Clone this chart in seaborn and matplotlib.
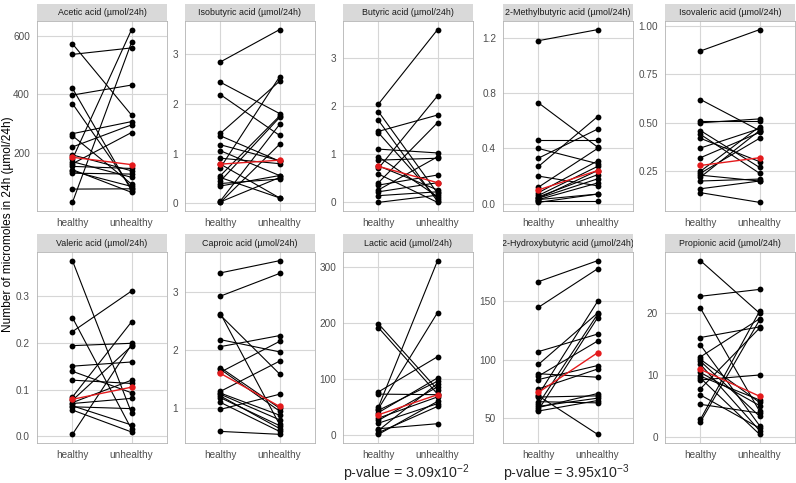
import numpy as np
import pandas as pd
import matplotlib
matplotlib.use("Agg")
import matplotlib.pyplot as plt
import seaborn as sns

groups = ["healthy", "unhealthy"]

# values, one entry per subject (healthy -> unhealthy)
acetic_healthy = [572, 536, 421, 398, 369, 267, 260, 222, 195, 181, 172, 165, 156, 145, 140, 133, 79, 34]
acetic_unhealthy = [330, 558, 74, 432, 82, 308, 96, 297, 141, 620, 119, 271, 149, 68, 88, 130, 80, 577]
acetic_median = [187, 162]
acetic_ticks = [200, 400, 600]
acetic_labels = ["200", "400", "600"]

isobutyric_healthy = [2.85, 2.44, 2.19, 1.41, 1.36, 1.18, 1.06, 0.91, 0.79, 0.72, 0.56, 0.52, 0.45, 0.40, 0.35, 0.05, 0.02, 0.03]
isobutyric_unhealthy = [3.50, 1.81, 1.37, 2.46, 0.85, 0.86, 0.56, 0.80, 0.11, 2.55, 1.76, 0.11, 1.73, 0.49, 0.56, 1.59, 1.19, 0.52]
isobutyric_median = [0.79, 0.87]
isobutyric_ticks = [0, 1, 2, 3]
isobutyric_labels = ["0", "1", "2", "3"]

butyric_healthy = [2.05, 1.89, 1.71, 1.48, 1.45, 1.11, 0.95, 0.88, 0.76, 0.71, 0.59, 0.41, 0.36, 0.26, 0.22, 0.14, 0.00]
butyric_unhealthy = [3.60, 0.19, 0.02, 1.82, 0.07, 1.03, 0.12, 0.92, 0.26, 2.22, 0.00, 1.66, 0.57, 0.95, 0.41, 0.22, 0.15]
butyric_median = [0.75, 0.41]
butyric_ticks = [0, 1, 2, 3]
butyric_labels = ["0", "1", "2", "3"]

methylbutyric_healthy = [1.18, 0.73, 0.46, 0.40, 0.33, 0.27, 0.20, 0.12, 0.08, 0.06, 0.05, 0.04, 0.03, 0.03, 0.02, 0.01, 0.04]
methylbutyric_unhealthy = [1.26, 0.41, 0.46, 0.29, 0.54, 0.63, 0.13, 0.40, 0.31, 0.27, 0.21, 0.18, 0.15, 0.07, 0.02, 0.07, 0.24]
methylbutyric_median = [0.10, 0.24]
methylbutyric_ticks = [0.0, 0.4, 0.8, 1.2]
methylbutyric_labels = ["0.0", "0.4", "0.8", "1.2"]

isovaleric_healthy = [0.87, 0.62, 0.51, 0.50, 0.46, 0.44, 0.42, 0.37, 0.32, 0.25, 0.24, 0.23, 0.22, 0.20, 0.16, 0.14]
isovaleric_unhealthy = [0.98, 0.46, 0.51, 0.52, 0.27, 0.24, 0.30, 0.47, 0.45, 0.48, 0.42, 0.20, 0.46, 0.21, 0.20, 0.09]
isovaleric_median = [0.28, 0.32]
isovaleric_ticks = [0.25, 0.50, 0.75, 1.00]
isovaleric_labels = ["0.25", "0.50", "0.75", "1.00"]

valeric_healthy = [0.376, 0.254, 0.224, 0.194, 0.150, 0.139, 0.120, 0.084, 0.077, 0.070, 0.063, 0.056, 0.065, 0.072, 0.004]
valeric_unhealthy = [0.050, 0.015, 0.311, 0.199, 0.159, 0.093, 0.113, 0.245, 0.193, 0.081, 0.059, 0.009, 0.024, 0.120, 0.196]
valeric_median = [0.079, 0.105]
valeric_ticks = [0.0, 0.1, 0.2, 0.3]
valeric_labels = ["0.0", "0.1", "0.2", "0.3"]

caproic_healthy = [3.33, 2.93, 2.63, 2.60, 2.18, 2.06, 1.70, 1.67, 1.62, 1.29, 1.24, 1.21, 1.18, 1.10, 0.98, 0.60, 1.26]
caproic_unhealthy = [3.54, 3.32, 0.72, 1.59, 1.97, 2.25, 1.00, 0.95, 2.15, 1.81, 0.80, 0.65, 0.70, 0.60, 1.24, 0.55, 0.88]
caproic_median = [1.60, 1.03]
caproic_ticks = [1, 2, 3]
caproic_labels = ["1", "2", "3"]

lactic_healthy = [199, 192, 77, 73, 50, 47, 44, 40, 30, 26, 21, 11, 8, 4, 1]
lactic_unhealthy = [81, 73, 140, 72, 312, 219, 96, 102, 68, 86, 56, 20, 92, 51, 60]
lactic_median = [36, 72]
lactic_ticks = [0, 100, 200, 300]
lactic_labels = ["0", "100", "200", "300"]

hydroxybutyric_healthy = [167, 145, 107, 96, 88, 86, 83, 75, 70, 69, 62, 59, 57, 56, 68, 64, 60]
hydroxybutyric_unhealthy = [185, 178, 122, 140, 85, 116, 95, 92, 150, 36, 139, 71, 136, 65, 69, 63, 67]
hydroxybutyric_median = [72, 106]
hydroxybutyric_ticks = [50, 100, 150]
hydroxybutyric_labels = ["50", "100", "150"]

propionic_healthy = [28.3, 22.6, 20.7, 16.0, 14.8, 12.9, 12.5, 12.2, 11.7, 9.8, 9.5, 9.2, 7.8, 6.8, 5.3, 2.9, 2.5, 10.4]
propionic_unhealthy = [19.9, 23.7, 4.2, 17.7, 1.9, 19.0, 5.6, 3.4, 1.1, 6.0, 0.5, 10.0, 17.5, 1.5, 3.9, 20.2, 18.8, 5.1]
propionic_median = [10.9, 6.6]
propionic_ticks = [0, 10, 20]
propionic_labels = ["0", "10", "20"]

titles = [
    "Acetic acid (µmol/24h)", "Isobutyric acid (µmol/24h)", "Butyric acid (µmol/24h)",
    "2-Methylbutyric acid (µmol/24h)", "Isovaleric acid (µmol/24h)",
    "Valeric acid (µmol/24h)", "Caproic acid (µmol/24h)", "Lactic acid (µmol/24h)",
    "2-Hydroxybutyric acid (µmol/24h)", "Propionic acid (µmol/24h)",
]

pvalue_texts = [r"p-value = 3.09x10$^{-2}$", r"p-value = 3.95x10$^{-3}$"]

panels = [
    (acetic_healthy, acetic_unhealthy, acetic_median, acetic_ticks, acetic_labels),
    (isobutyric_healthy, isobutyric_unhealthy, isobutyric_median, isobutyric_ticks, isobutyric_labels),
    (butyric_healthy, butyric_unhealthy, butyric_median, butyric_ticks, butyric_labels),
    (methylbutyric_healthy, methylbutyric_unhealthy, methylbutyric_median, methylbutyric_ticks, methylbutyric_labels),
    (isovaleric_healthy, isovaleric_unhealthy, isovaleric_median, isovaleric_ticks, isovaleric_labels),
    (valeric_healthy, valeric_unhealthy, valeric_median, valeric_ticks, valeric_labels),
    (caproic_healthy, caproic_unhealthy, caproic_median, caproic_ticks, caproic_labels),
    (lactic_healthy, lactic_unhealthy, lactic_median, lactic_ticks, lactic_labels),
    (hydroxybutyric_healthy, hydroxybutyric_unhealthy, hydroxybutyric_median, hydroxybutyric_ticks, hydroxybutyric_labels),
    (propionic_healthy, propionic_unhealthy, propionic_median, propionic_ticks, propionic_labels),
]

sns.set_style("white")
plt.rcParams["font.family"] = ["Liberation Sans", "DejaVu Sans"]
plt.rcParams["mathtext.fontset"] = "custom"
plt.rcParams["mathtext.rm"] = "Liberation Sans"
plt.rcParams["mathtext.it"] = "Liberation Sans:italic"
plt.rcParams["mathtext.default"] = "rm"

W, H = 796, 483
fig = plt.figure(figsize=(W / 100, H / 100), dpi=100)


def rect(x0, y0, x1, y1):
    return [x0 / W, 1 - y1 / H, (x1 - x0) / W, (y1 - y0) / H]


col_left = [37, 185, 343, 503, 665]
panel_w = 130
rows = [(4, 21, 211), (234, 252, 443)]  # strip top, panel top, panel bottom

for i, (hv, uv, med, ticks, labels) in enumerate(panels):
    r, c = divmod(i, 5)
    st, pt, pb = rows[r]
    x0 = col_left[c]

    # strip header
    sax = fig.add_axes(rect(x0, st, x0 + panel_w, pt))
    sax.set_facecolor("#d9d9d9")
    sax.set_xticks([])
    sax.set_yticks([])
    for s in sax.spines.values():
        s.set_visible(False)
    t = sax.text(0.5, 0.48, titles[i], ha="center", va="center", fontsize=6.4,
                 color="#1a1a1a", transform=sax.transAxes)
    t.set_clip_on(True)

    ax = fig.add_axes(rect(x0, pt, x0 + panel_w, pb))
    df = pd.DataFrame({
        "subject": list(range(len(hv))) * 2,
        "group": [groups[0]] * len(hv) + [groups[1]] * len(uv),
        "value": list(hv) + list(uv),
    })
    sns.lineplot(data=df, x="group", y="value", units="subject", estimator=None,
                 color="black", marker="o", markersize=4.2, markeredgewidth=0,
                 linewidth=0.8, ax=ax, zorder=3)
    sns.lineplot(x=groups, y=med, color="#e41a1c", marker="o", markersize=4.6,
                 markeredgewidth=0, linewidth=1.0, ax=ax, zorder=4)

    lo = min(min(hv), min(uv), min(med))
    hi = max(max(hv), max(uv), max(med))
    pad = 0.05 * (hi - lo)
    ax.set_ylim(lo - pad, hi + pad)
    ax.set_xlim(-0.6, 1.6)
    ax.set_yticks(ticks)
    ax.set_yticklabels(labels)
    ax.set_xlabel("")
    ax.set_ylabel("")
    ax.grid(True, color="#d6d6d6", linewidth=0.8)
    ax.set_axisbelow(True)
    for s in ax.spines.values():
        s.set_color("#b3b3b3")
        s.set_linewidth(0.6)
    ax.tick_params(axis="both", which="major", length=3, width=0.5, color="#b3b3b3",
                   labelsize=7.2, labelcolor="#4d4d4d", pad=2)
    ax.tick_params(axis="x", color="#333333")

fig.text(8 / W, 1 - 224 / H, "Number of micromoles in 24h (µmol/24h)", rotation=90,
         ha="center", va="center", fontsize=8.6, color="black")

fig.text(343 / W, 1 - 478 / H, pvalue_texts[0], ha="left", va="baseline", fontsize=10.3)
fig.text(503 / W, 1 - 478 / H, pvalue_texts[1], ha="left", va="baseline", fontsize=10.3)

fig.savefig("out.png", dpi=100)
